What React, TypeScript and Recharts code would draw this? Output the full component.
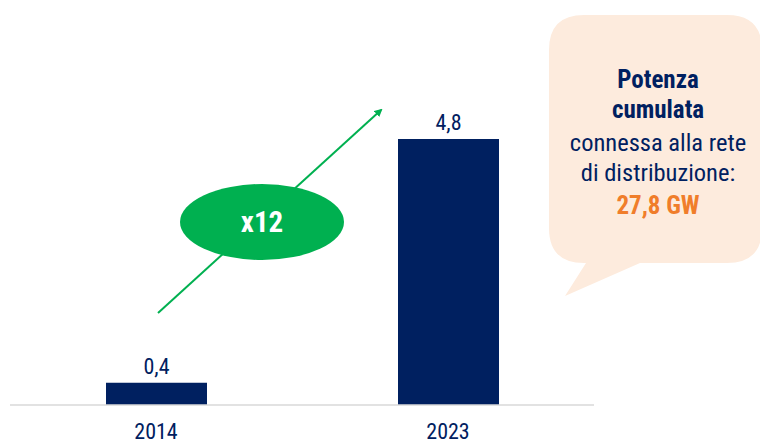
import React from 'react';
import { BarChart, Bar, XAxis, YAxis, LabelList } from 'recharts';

const categories = ['2014', '2023'];
const values = [0.4, 4.8];
const bubbleLines = ['Potenza', 'cumulata', 'connessa alla rete', 'di distribuzione:', '27,8 GW'];
const growthLabel = 'x12';

const data = categories.map((c, i) => ({ year: c, value: values[i] }));

const NAVY = '#002060';
const GREEN = '#00B050';
const FONT = '"Liberation Sans Narrow", "Arial Narrow", "Roboto Condensed", Arial, sans-serif';

export default function App() {
  return (
    <div style={{ position: 'fixed', left: 0, top: 0, width: 760, height: 443, background: '#fff' }}>
      <BarChart width={760} height={443} data={data} margin={{ top: 128, right: 166, bottom: 8, left: 10 }}>
        <XAxis
          dataKey="year"
          height={30}
          axisLine={{ stroke: '#D9D9D9', strokeWidth: 1.5 }}
          tickLine={false}
          tick={{ fill: NAVY, fontSize: 22, fontFamily: FONT }}
          dy={10}
        />
        <YAxis hide domain={[0, 5]} />
        <Bar dataKey="value" fill={NAVY} barSize={101} isAnimationActive={false}>
          <LabelList
            dataKey="value"
            position="top"
            offset={9}
            formatter={(v: any) => String(v).replace('.', ',')}
            style={{ fill: NAVY, fontSize: 22, fontFamily: FONT }}
          />
        </Bar>
      </BarChart>
      <svg width={760} height={443} style={{ position: 'absolute', left: 0, top: 0, pointerEvents: 'none' }}>
        <defs>
          <marker id="ah" markerWidth="8" markerHeight="8" refX="6" refY="4" orient="auto" markerUnits="userSpaceOnUse">
            <path d="M0,0 L8,4 L0,8 Z" fill={GREEN} />
          </marker>
        </defs>
        <line x1={158} y1={313} x2={381} y2={110} stroke={GREEN} strokeWidth={2} markerEnd="url(#ah)" />
        <ellipse cx={262} cy={222} rx={82} ry={38} fill={GREEN} />
        <text x={262} y={232} textAnchor="middle" fill="#fff" fontSize={29} fontWeight="bold" fontFamily={FONT}>
          {growthLabel}
        </text>
        <path
          d="M584,15 H727 Q762,15 762,50 V228 Q762,263 727,263 H640 L565,296 L586,263 H584 Q549,263 549,228 V50 Q549,15 584,15 Z"
          fill="#FDEBDD"
        />
        <text x={658} y={88} textAnchor="middle" fill={NAVY} fontSize={25} fontWeight="bold" fontFamily={FONT}>{bubbleLines[0]}</text>
        <text x={658} y={118} textAnchor="middle" fill={NAVY} fontSize={25} fontWeight="bold" fontFamily={FONT}>{bubbleLines[1]}</text>
        <text x={658} y={151} textAnchor="middle" fill={NAVY} fontSize={24.5} fontFamily={FONT}>{bubbleLines[2]}</text>
        <text x={658} y={181} textAnchor="middle" fill={NAVY} fontSize={24.5} fontFamily={FONT}>{bubbleLines[3]}</text>
        <text x={658} y={214} textAnchor="middle" fill="#F07D2A" fontSize={25} fontWeight="bold" fontFamily={FONT}>{bubbleLines[4]}</text>
      </svg>
    </div>
  );
}
